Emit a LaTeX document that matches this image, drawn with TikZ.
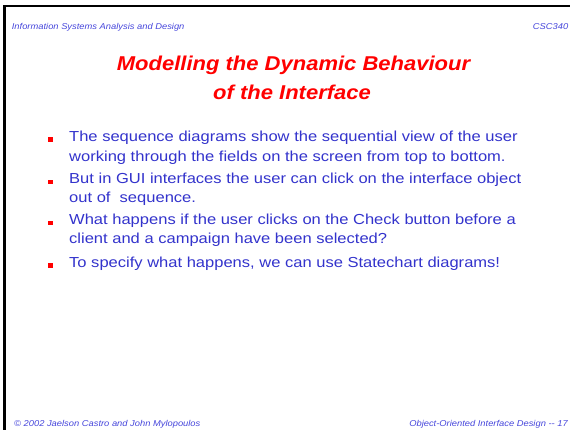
\documentclass[tikz,border=0pt]{standalone}
\usepackage{fontspec}
\setmainfont{Liberation Sans}
\newfontfamily\bodyfam[FakeStretch=1.14]{Liberation Sans}
\newfontfamily\titlefam[FakeStretch=1.10]{Liberation Sans}
\newfontfamily\hdrfam[FakeStretch=1.10]{Liberation Sans}
\definecolor{bodyblue}{RGB}{51,51,204}
\definecolor{headblue}{RGB}{70,70,220}
\definecolor{titlered}{RGB}{255,0,0}
\begin{document}
\begin{tikzpicture}[x=1pt,y=-1pt,
  hdr/.style={inner sep=0pt,font=\hdrfam\fontsize{8.5}{10}\selectfont\itshape,text=headblue},
  ttl/.style={inner sep=0pt,font=\titlefam\fontsize{20}{24}\selectfont\bfseries\itshape,text=titlered,anchor=base},
  txt/.style={inner sep=0pt,font=\bodyfam\fontsize{14.5}{17}\selectfont,text=bodyblue,anchor=base west},
  bulletsq/.style={fill=titlered,draw=none,minimum size=4.5pt,inner sep=0pt}]
\useasboundingbox (0,0) rectangle (570,430);
\fill[white] (0,0) rectangle (570,430);
% border
\draw[line width=2.5pt,line cap=rect] (4.3,430) -- (4.3,6.2) -- (572,6.2);
% header
\node[hdr,anchor=base west] (h1) at (11.7,29.3) {Information Systems Analysis and Design};
\node[hdr,anchor=base east] (h2) at (568.5,29.3) {CSC340};
% title
\node[ttl] (t1) at (293.5,71) {Modelling the Dynamic Behaviour};
\node[ttl] (t2) at (292,100) {of the Interface};
% bullets
\node[bulletsq] (q1) at (50.5,139.5) {};
\node[bulletsq] (q2) at (50.5,181.8) {};
\node[bulletsq] (q3) at (50.5,222.8) {};
\node[bulletsq] (q4) at (50.5,265.5) {};
\node[txt] (l1) at (69,141.7) {The sequence diagrams show the sequential view of the user};
\node[txt] (l2) at (69,162) {working through the fields on the screen from top to bottom.};
\node[txt] (l3) at (69,184) {But in GUI interfaces the user can click on the interface object};
\node[txt] (l4) at (69,202.7) {out of\ \ sequence.};
\node[txt] (l5) at (69,225) {What happens if the user clicks on the Check button before a};
\node[txt] (l6) at (69,244) {client and a campaign have been selected?};
\node[txt] (l7) at (69,267.7) {To specify what happens, we can use Statechart diagrams!};
% footer
\node[hdr,anchor=base west] (f1) at (14,426.5) {© 2002 Jaelson Castro and John Mylopoulos};
\node[hdr,anchor=base east] (f2) at (568,426.5) {Object-Oriented Interface Design -{}- 17};
\end{tikzpicture}
\end{document}
